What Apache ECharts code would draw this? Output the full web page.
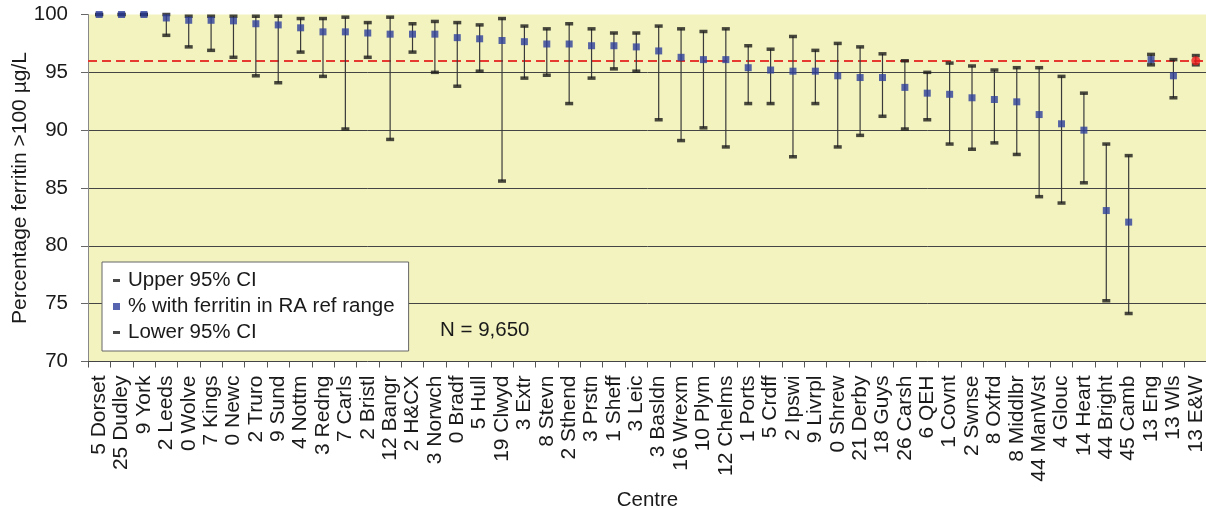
<!DOCTYPE html>
<html>
<head>
<meta charset="utf-8">
<script src="https://cdn.jsdelivr.net/npm/echarts@6/dist/echarts.min.js"></script>
<style>
  html, body { margin: 0; padding: 0; background: #ffffff; }
  #chart { width: 1206px; height: 508px; }
</style>
</head>
<body>
<div id="chart"></div>
<script>
// Centres (number prefix as labelled) in ranked order
const centres = ['5 Dorset','25 Dudley','9 York','2 Leeds','0 Wolve','7 Kings','0 Newc','2 Truro','9 Sund','4 Nottm',
  '3 Redng','7 Carls','2 Bristl','12 Bangr','2 H&CX','3 Norwch','0 Bradf','5 Hull','19 Clwyd','3 Extr',
  '8 Stevn','2 Sthend','3 Prstn','1 Sheff','3 Leic','3 Basldn','16 Wrexm','10 Plym','12 Chelms','1 Ports',
  '5 Crdff','2 Ipswi','9 Livrpl','0 Shrew','21 Derby','18 Guys','26 Carsh','6 QEH','1 Covnt','2 Swnse',
  '8 Oxfrd','8 Middlbr','44 ManWst','4 Glouc','14 Heart','44 Bright','45 Camb','13 Eng','13 Wls','13 E&W'];

// % with ferritin in RA reference range
const pctInRange = [100,100,100,99.7,99.5,99.5,99.45,99.2,99.1,98.85,
  98.5,98.5,98.4,98.3,98.3,98.3,98.0,97.9,97.75,97.65,
  97.45,97.45,97.3,97.3,97.2,96.85,96.3,96.1,96.1,95.4,
  95.2,95.1,95.1,94.7,94.55,94.55,93.7,93.2,93.1,92.8,
  92.65,92.45,91.35,90.55,90.0,83.05,82.05,96.1,94.7,96.0];

// Upper 95% confidence limit
const upperCI = [100,100,100,100,99.85,99.85,99.85,99.85,99.85,99.65,
  99.65,99.77,99.3,99.77,99.2,99.4,99.3,99.1,99.65,99.0,
  98.76,99.2,98.76,98.4,98.4,99.0,98.76,98.53,98.76,97.3,
  97.0,98.1,96.9,97.5,97.2,96.6,96.0,95.0,95.8,95.55,
  95.2,95.4,95.4,94.65,93.2,88.8,87.8,96.55,96.1,96.45];

// Lower 95% confidence limit
const lowerCI = [100,100,100,98.2,97.2,96.9,96.3,94.7,94.1,96.75,
  94.65,90.1,96.3,89.2,96.75,95.0,93.8,95.1,85.6,94.5,
  94.75,92.3,94.5,95.3,95.1,90.9,89.1,90.2,88.55,92.3,
  92.3,87.7,92.3,88.55,89.55,91.2,90.1,90.9,88.8,88.35,
  88.9,87.9,84.25,83.7,85.45,75.25,74.15,95.65,92.8,95.65];

// National standard reference level
const standardLevel = 96;
const yTicks = { min: 70, max: 100, step: 5 };
const highlightCentre = '13 E&W';

const FONT = '"Liberation Sans", Arial, Helvetica, sans-serif';
const TEXT = '#1a1a1a';
const BLUE = '#2d3e9c';

const chart = echarts.init(document.getElementById('chart'), null, { renderer: 'canvas' });

const ciRanges = centres.map((c, i) => [i, lowerCI[i], upperCI[i]]);
const pctData = pctInRange.map((v, i) => {
  if (centres[i] === highlightCentre) {
    return { value: v, symbol: 'circle', symbolSize: 9, itemStyle: { color: '#ee1c1c' } };
  }
  return v;
});

const dashIcon = 'path://M0,0h7v3h-7z';
const squareIcon = 'path://M0,0h5v5h-5z';

chart.setOption({
  animation: false,
  textStyle: { fontFamily: FONT },
  grid: {
    left: 88, top: 14.5, width: 1119, height: 347,
    outerBoundsMode: 'none',
    containLabel: false,
    show: true, backgroundColor: '#f3f3bf', borderWidth: 0
  },
  legend: {
    left: 102, top: 262,
    orient: 'vertical',
    backgroundColor: '#ffffff',
    borderColor: '#666666', borderWidth: 1,
    padding: [8, 14, 8, 11],
    itemGap: 5,
    itemWidth: 7, itemHeight: 7,
    selectedMode: false,
    textStyle: { fontSize: 20.5, color: TEXT, fontFamily: FONT, padding: [0, 0, 0, 3] },
    data: [
      { name: 'Upper 95% CI', icon: dashIcon, itemStyle: { color: '#1a1a1a' } },
      { name: '% with ferritin in RA ref range', icon: squareIcon, itemStyle: { color: BLUE } },
      { name: 'Lower 95% CI', icon: dashIcon, itemStyle: { color: '#1a1a1a' } }
    ]
  },
  xAxis: {
    type: 'category',
    data: centres,
    boundaryGap: true,
    name: 'Centre',
    nameLocation: 'middle',
    nameGap: 128,
    nameMoveOverlap: false,
    nameTextStyle: { fontSize: 20.5, color: TEXT, fontFamily: FONT },
    axisLine: { lineStyle: { color: '#444444', width: 1 } },
    axisTick: { show: true, length: 6, lineStyle: { color: '#555555' } },
    axisLabel: { rotate: 90, interval: 0, fontSize: 21, color: TEXT, margin: 14, fontFamily: FONT },
    splitLine: { show: false }
  },
  yAxis: {
    type: 'value',
    min: yTicks.min, max: yTicks.max, interval: yTicks.step,
    name: 'Percentage ferritin >100 µg/L',
    nameLocation: 'middle',
    nameGap: 57,
    nameMoveOverlap: false,
    nameTextStyle: { fontSize: 21, color: TEXT, fontFamily: FONT },
    axisLine: { show: true, lineStyle: { color: '#888888', width: 1 } },
    axisTick: { show: true, length: 7, lineStyle: { color: '#666666' } },
    axisLabel: { fontSize: 20.5, color: TEXT, margin: 20, fontFamily: FONT },
    splitLine: {
      show: true,
      lineStyle: {
        color: ['rgba(0,0,0,0)', '#444444', '#444444', '#444444', '#444444', '#444444', 'rgba(0,0,0,0)'],
        width: 1
      }
    }
  },
  graphic: [{
    type: 'text',
    left: 440, top: 320,
    style: { text: 'N = 9,650', fontSize: 20.5, fill: TEXT, fontFamily: FONT }
  }],
  series: [
    {
      // vertical confidence interval whiskers
      type: 'custom',
      name: 'CI range',
      data: ciRanges,
      encode: { x: 0, y: [1, 2] },
      z: 2,
      renderItem: function (params, api) {
        const lo = api.coord([api.value(0), api.value(1)]);
        const hi = api.coord([api.value(0), api.value(2)]);
        return {
          type: 'line',
          shape: { x1: lo[0], y1: lo[1], x2: hi[0], y2: hi[1] },
          style: { stroke: '#3a3a3a', lineWidth: 1.2 }
        };
      }
    },
    {
      type: 'scatter',
      name: 'Upper 95% CI',
      data: upperCI,
      symbol: 'rect', symbolSize: [8, 3.5],
      itemStyle: { color: '#1a1a1a' },
      z: 3
    },
    {
      type: 'scatter',
      name: 'Lower 95% CI',
      data: lowerCI,
      symbol: 'rect', symbolSize: [8, 3.5],
      itemStyle: { color: '#1a1a1a' },
      z: 3
    },
    {
      type: 'scatter',
      name: '% with ferritin in RA ref range',
      data: pctData,
      symbol: 'rect', symbolSize: 7,
      itemStyle: { color: BLUE },
      z: 4,
      markLine: {
        silent: true,
        symbol: ['none', 'none'],
        label: { show: false },
        lineStyle: { color: '#e63a30', type: [9, 5], width: 1.8 },
        data: [{ yAxis: standardLevel }],
        z: 1
      }
    }
  ]
});
</script>
</body>
</html>
